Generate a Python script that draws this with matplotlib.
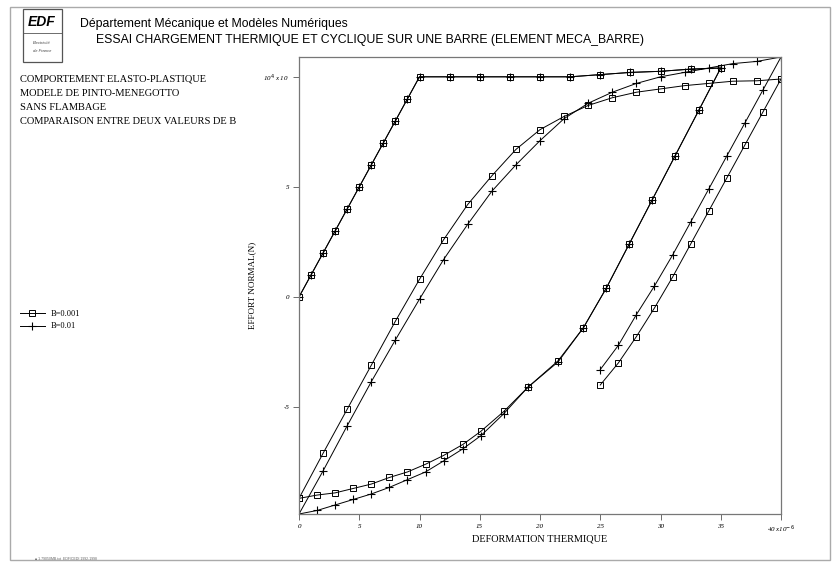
import matplotlib
matplotlib.use("Agg")
import matplotlib.pyplot as plt
from matplotlib.patches import Rectangle
from matplotlib.lines import Line2D

W, H = 833, 563

# ---- data (x in 1e-6, effort in 1e4 N) ----
# branch 1: first heating (both B values give the same curve)
heat1_x = [0, 1, 2, 3, 4, 5, 6, 7, 8, 9, 10, 12.5, 15, 17.5, 20, 22.5, 25, 27.5, 30, 32.5, 35]
heat1_y = [0, 1, 2, 3, 4, 5, 6, 7, 8, 9, 10, 10, 10, 10, 10, 10, 10.1, 10.2, 10.25, 10.35, 10.4]

# branch 2: cooling 35 -> 0
cool1_x = [35, 33.2, 31.2, 29.3, 27.4, 25.5, 23.6, 21.5, 19, 17, 15.1, 13.6, 12, 10.5, 9, 7.5, 6, 4.5, 3, 1.5, 0]
cool1_y_b001 = [10.4, 8.5, 6.4, 4.4, 2.4, 0.4, -1.4, -2.9, -4.1, -5.2, -6.1, -6.7, -7.2, -7.6, -7.95,
                -8.2, -8.5, -8.7, -8.9, -9.0, -9.15]
cool1_y_b01 = [10.4, 8.5, 6.4, 4.4, 2.4, 0.4, -1.4, -2.95, -4.1, -5.3, -6.3, -6.9, -7.45, -7.95, -8.3,
               -8.65, -8.95, -9.2, -9.45, -9.7, -9.86]

# branch 3: second heating 0 -> 40
heat2_x = [0, 2, 4, 6, 8, 10, 12, 14, 16, 18, 20, 22, 24, 26, 28, 30, 32, 34, 36, 38, 40]
heat2_y_b001 = [-9.15, -7.1, -5.1, -3.1, -1.1, 0.8, 2.6, 4.2, 5.5, 6.7, 7.6, 8.2, 8.7, 9.05, 9.3,
                9.45, 9.6, 9.7, 9.8, 9.82, 9.9]
heat2_y_b01 = [-9.86, -7.9, -5.85, -3.85, -1.95, -0.1, 1.7, 3.3, 4.8, 6.0, 7.1, 8.1, 8.8, 9.3, 9.7,
               10.0, 10.2, 10.4, 10.6, 10.7, 10.9]

# branch 4: cooling 40 -> 25
cool2_x = [40, 38.5, 37, 35.5, 34, 32.5, 31, 29.5, 28, 26.5, 25]
cool2_y_b001 = [9.9, 8.4, 6.9, 5.4, 3.9, 2.4, 0.9, -0.5, -1.8, -3.0, -4.0]
cool2_y_b01 = [10.9, 9.4, 7.9, 6.4, 4.9, 3.4, 1.9, 0.5, -0.8, -2.2, -3.3]

labels = ["B=0.001", "B=0.01"]
xticks = [0, 5, 10, 15, 20, 25, 30, 35, 40]
xticklabels = ["0", "5", "10", "15", "20", "25", "30", "35", "40 x10$^{-6}$"]
yticks = [-5, 0, 5, 10]
yticklabels = ["-5", "0", "5", "10$^{4}$ x 10"]

x_b001 = heat1_x + cool1_x + heat2_x + cool2_x
y_b001 = heat1_y + cool1_y_b001 + heat2_y_b001 + cool2_y_b001
x_b01 = heat1_x + cool1_x + heat2_x + cool2_x
y_b01 = heat1_y + cool1_y_b01 + heat2_y_b01 + cool2_y_b01


def px(x, y):
    return x / W, 1 - y / H


fig = plt.figure(figsize=(W / 100, H / 100), dpi=100)

# page frame
fig.patches.append(Rectangle(px(10, 560), 820 / W, 553 / H, transform=fig.transFigure,
                             fill=False, edgecolor="#aaaaaa", linewidth=1.0))
# EDF logo
fig.patches.append(Rectangle(px(23, 62), 39 / W, 53 / H, transform=fig.transFigure,
                             fill=False, edgecolor="#555555", linewidth=0.9))
fig.add_artist(Line2D([23 / W, 62 / W], [1 - 33 / H, 1 - 33 / H], transform=fig.transFigure,
                      color="#555555", linewidth=0.6))
fig.text(*px(42, 22), "EDF", fontsize=10, fontweight="bold", fontstyle="italic",
         family="Liberation Sans", ha="center", va="center")
fig.text(*px(42, 43), "Electricité", fontsize=3, fontstyle="italic",
         family="Liberation Sans", ha="center", va="center", color="#444444")
fig.text(*px(42, 51), "de France", fontsize=3, fontstyle="italic",
         family="Liberation Sans", ha="center", va="center", color="#444444")

# header
fig.text(*px(80, 24), "Département Mécanique et Modèles Numériques", fontsize=8.8,
         family="Liberation Sans", ha="left", va="center")
fig.text(*px(96, 40), "ESSAI CHARGEMENT THERMIQUE ET CYCLIQUE SUR UNE BARRE (ELEMENT MECA_BARRE)",
         fontsize=8.8, family="Liberation Sans", ha="left", va="center")

# left notes
notes = ["COMPORTEMENT ELASTO-PLASTIQUE", "MODELE DE PINTO-MENEGOTTO", "SANS FLAMBAGE",
         "COMPARAISON ENTRE DEUX VALEURS DE B"]
for i, t in enumerate(notes):
    fig.text(*px(20, 79 + i * 14), t, fontsize=7.5, family="Liberation Serif",
             ha="left", va="center")

fig.text(*px(35, 559), "\u25a0 1.79050MB.txt  EDF/CEDI 1992-1998", fontsize=2.5,
         family="Liberation Sans", ha="left", va="center", color="#666666")

# main axes
l, b = px(299, 514)
r, t = px(781, 57)
ax = fig.add_axes([l, b, r - l, t - b])

ax.plot(x_b001, y_b001, color="black", linewidth=0.7, marker="s", markersize=5,
        markerfacecolor="none", markeredgewidth=0.7, label=labels[0])
ax.plot(x_b01, y_b01, color="black", linewidth=0.7, marker="+", markersize=6,
        markeredgewidth=0.8, label=labels[1])

ax.set_xlim(0, 40)
ax.set_ylim(-9.86, 10.9)
ax.set_xticks(xticks)
ax.set_xticklabels(xticklabels, fontsize=5, fontstyle="italic", family="Liberation Serif")
ax.set_yticks(yticks)
ax.set_yticklabels(yticklabels, fontsize=5, fontstyle="italic", family="Liberation Serif")
ax.tick_params(direction="out", length=4, width=0.6, color="#555555", pad=3)
for s in ax.spines.values():
    s.set_color("#777777")
    s.set_linewidth(0.9)

ax.set_xlabel("DEFORMATION THERMIQUE", fontsize=7.4, family="Liberation Serif")
ax.xaxis.set_label_coords(0.5, -0.044)
ax.set_ylabel("EFFORT NORMAL(N)", fontsize=6.6, family="Liberation Serif")
ax.yaxis.set_label_coords(-0.088, 0.5)

handles, labs = ax.get_legend_handles_labels()
fig.legend(handles, labs, loc="center left", bbox_to_anchor=px(12, 320), frameon=False,
           handlelength=3.0, labelspacing=0.6, prop={"family": "Liberation Serif", "size": 6})

fig.savefig("out.png", dpi=100)
